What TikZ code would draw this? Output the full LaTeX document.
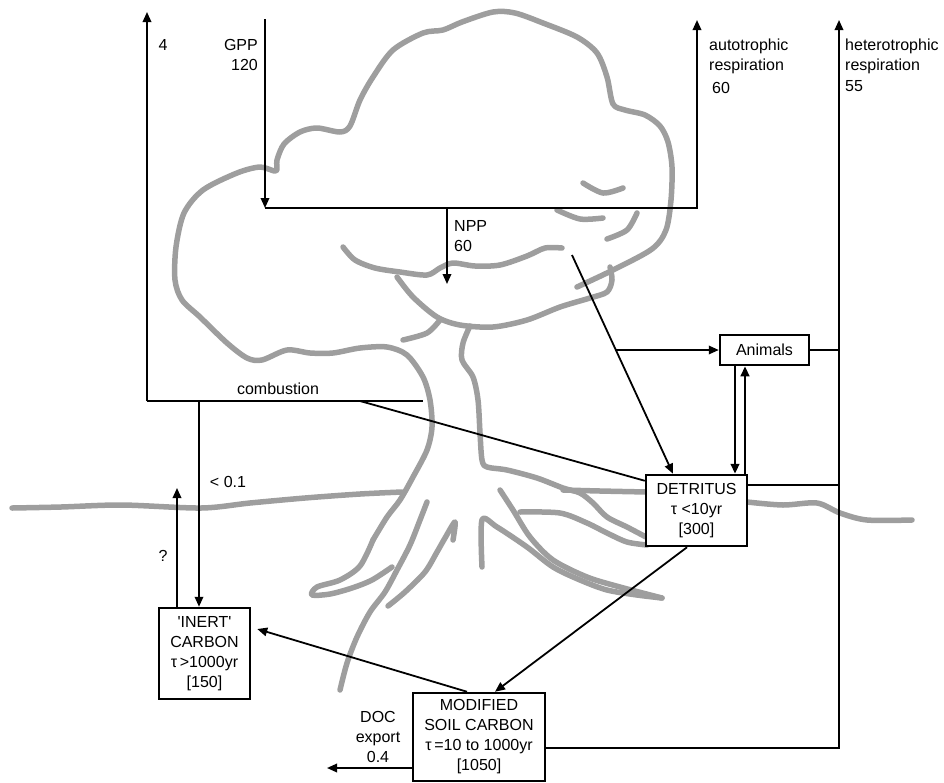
\documentclass[tikz,border=0pt]{standalone}
\usepackage{fontspec}
\setmainfont{Liberation Sans}
\usetikzlibrary{arrows.meta}
\definecolor{treegray}{RGB}{158,158,158}

\begin{document}
\begin{tikzpicture}[x=1pt, y=-1pt, font=\fontsize{16}{20}\selectfont,
    pool/.style={draw, line width=2.5pt, fill=white, align=center, inner sep=0pt},
    flow/.style={line width=1.8pt},
    tip/.style={-{Triangle[length=10pt, width=8.5pt]}},
    tree/.style={treegray, line width=5.5pt, line cap=round, line join=round},
    lbl/.style={inner sep=0pt, align=left}]
    \useasboundingbox (0,0) rectangle (944,782);

    % Tree sketch
    \draw[tree] plot[smooth] coordinates {(373,540) (387,517) (400,500) (413,477) (427,450) (432,427) (430,400) (423,377) (407,355) (387,347) (360,348) (333,353) (310,353) (287,350) (262,360) (247,358) (227,343) (200,317) (182,300) (175,280) (176,247) (184,213) (203,190) (237,173) (260,167) (276,171) (277,160) (284,144) (300,132) (317,128) (340,132) (350,126) (360,100) (373,77) (393,50) (423,33) (443,30) (462,22) (493,12) (515,13) (543,23) (577,37) (597,53) (607,77) (613,104) (625,110) (645,115) (660,126) (668,142) (672,167) (671,200) (666,230) (652,249) (613,270) (577,287)};
    \draw[tree] plot[smooth] coordinates {(343,247) (355,260) (375,268) (400,272) (427,275) (440,268) (453,263) (475,266) (500,265) (527,256) (545,248) (562,248)};
    \draw[tree] plot[smooth] coordinates {(397,277) (413,297) (437,317) (460,325) (493,327) (527,320) (560,307) (590,298) (607,292) (612,280) (610,267)};
    \draw[tree] plot[smooth] coordinates {(403,340) (427,333) (440,320)};
    \draw[tree] plot[smooth] coordinates {(583,183) (603,193) (623,188)};
    \draw[tree] plot[smooth] coordinates {(557,210) (580,219) (603,218)};
    \draw[tree] plot[smooth] coordinates {(607,239) (627,230) (637,213)};
    \draw[tree] plot[smooth] coordinates {(470,326) (463,343) (462,360) (473,377) (478,400) (480,433) (482,460) (487,467) (507,470) (537,478) (563,488) (580,493) (593,503) (607,517) (627,527) (646,537)};
    % roots
    \draw[tree] plot[smooth] coordinates {(373,540) (360,566) (340,580) (317,587) (312,595) (330,594) (352,588) (372,580) (392,567)};
    \draw[tree] plot[smooth] coordinates {(427,502) (420,520) (410,545) (397,570) (385,592) (370,612) (357,637) (347,663) (340,690)};
    \draw[tree] plot[smooth] coordinates {(453,540) (455,522) (445,538) (437,552) (425,572) (405,592) (388,606)};
    \draw[tree] plot[smooth] coordinates {(482,567) (482,520) (497,527) (527,547) (553,567) (580,580) (607,590) (637,595) (662,598)};
    \draw[tree] plot[smooth] coordinates {(500,490) (513,510) (530,537) (553,560) (587,577) (620,587) (662,598)};
    \draw[tree] plot[smooth] coordinates {(520,512) (560,513) (587,523) (607,533) (627,542) (647,545)};
    % ground
    \draw[tree] plot[smooth] coordinates {(12,508) (61,507) (122,505) (201,508) (250,503) (305,498) (360,494) (402,492)};
    \draw[tree] plot[smooth] coordinates {(563,490) (600,491) (647,492)};
    \draw[tree] plot[smooth] coordinates {(747,502) (783,505) (817,503) (840,513) (867,520) (912,520)};

    % Carbon pools
    \node[pool, minimum width=89pt, minimum height=30pt] (animals) at (764.5,350) {Animals};
    \node[pool, minimum width=101pt, minimum height=71pt] (detritus) at (696.5,510.5) {DETRITUS\\τ <10yr\\{[300]}};
    \node[pool, minimum width=91pt, minimum height=91pt] (inert) at (204.5,653.5) {\textquotesingle INERT\textquotesingle\\CARBON\\τ\,>1000yr\\{[150]}};
    \node[pool, minimum width=132pt, minimum height=88pt] (soil) at (479,737) {MODIFIED\\SOIL CARBON\\τ\,=10 to 1000yr\\{[1050]}};

    % Free ends
    \coordinate (fourtop) at (147,12);
    \coordinate (combleft) at (147,401);
    \coordinate (combright) at (423,401);
    \coordinate (combjoin) at (360,401);
    \coordinate (inertdrop) at (199,401);
    \coordinate (query) at (177,488);
    \coordinate (gpptop) at (265,19);
    \coordinate (gppfoot) at (265,208);
    \coordinate (autofoot) at (697,208);
    \coordinate (autotop) at (697,20);
    \coordinate (nppstart) at (447,208);
    \coordinate (nppend) at (447,284);
    \coordinate (litter) at (572,255);
    \coordinate (animalsfork) at (616,350);
    \coordinate (hetfoot) at (839,748);
    \coordinate (hettop) at (839,20);
    \coordinate (docend) at (327,768);
    \coordinate (detout) at ([yshift=-11pt]detritus.north east);
    \coordinate (soilout) at ([yshift=-11pt]soil.east);

    % Fluxes
    \draw[flow, tip] (combleft) -- (fourtop);
    \draw[flow] (combleft) -- (combright);
    \draw[flow] ([yshift=-7pt]detritus.north west) -- (combjoin);
    \draw[flow, tip] (inertdrop) -- ([xshift=-5.5pt]inert.north);
    \draw[flow, tip] ([xshift=-27.5pt]inert.north) -- (query);
    \draw[flow, tip] (gpptop) -- (gppfoot);
    \draw[flow, tip] (gppfoot) -- (autofoot) -- (autotop);
    \draw[flow, tip] (nppstart) -- (nppend);
    \draw[flow, tip] (litter) -- ([xshift=-23.5pt]detritus.north);
    \draw[flow, tip] (animalsfork) -- (animals.west);
    \draw[flow] (animals.east) -- (animals.east -| hetfoot);
    \draw[flow] (detout) -- (detout -| hetfoot);
    \draw[flow, tip] (soilout) -- (hetfoot) -- (hettop);
    \draw[line width=2.5pt, tip] ([xshift=-29.5pt]animals.south) -- ([xshift=38.5pt]detritus.north);
    \draw[line width=2.5pt, tip] ([xshift=48.5pt]detritus.north) -- ([xshift=-19.5pt]animals.south);
    \draw[flow, tip] ([xshift=-9.5pt]detritus.south) -- ([xshift=16pt]soil.north);
    \draw[flow, tip] ([xshift=-12pt]soil.north) -- ([xshift=6pt, yshift=24.5pt]inert.east);
    \draw[flow, tip] ([yshift=-31pt]soil.west) -- (docend);

    % Labels
    \node[lbl] (fourlbl) at (163,45) {4};
    \node[lbl, anchor=east, align=right] (gpplbl) at (258,55) {GPP\\120};
    \node[lbl, anchor=west] (autolbl) at (709,56) {autotrophic\\respiration};
    \node[lbl, anchor=west] (autoval) at (712,88) {60};
    \node[lbl, anchor=west] (hetlbl) at (845,56) {heterotrophic\\respiration};
    \node[lbl, anchor=west] (hetval) at (845,86) {55};
    \node[lbl, anchor=west] (npplbl) at (454,236) {NPP\\60};
    \node[lbl] (comblbl) at (278,389) {combustion};
    \node[lbl] (inertlbl) at (228,482) {< 0.1};
    \node[lbl] (querylbl) at (163,556) {?};
    \node[lbl, align=center] (doclbl) at (378,737) {DOC\\export\\0.4};
\end{tikzpicture}
\end{document}
